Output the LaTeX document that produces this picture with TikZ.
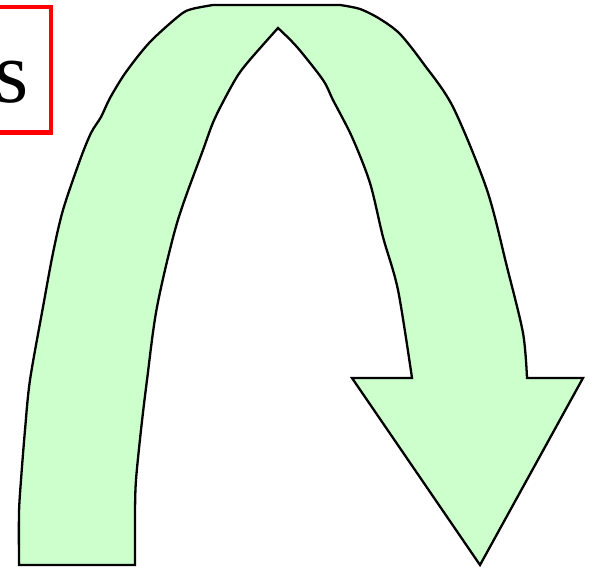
\documentclass[tikz,border=0pt]{standalone}
\usepackage{fontspec}
\setmainfont{Liberation Serif}
\definecolor{arrowgreen}{HTML}{CCFFCC}
\begin{document}
\begin{tikzpicture}[x=1pt,y=-1pt,
  uturn/.style={fill=arrowgreen,draw=black,line width=2.3pt,line join=miter},
  redbox/.style={draw=red,line width=4.5pt},
  bigletter/.style={font=\fontsize{88}{90}\selectfont,inner sep=0pt,anchor=base east}]
\useasboundingbox (0,0) rectangle (592,568);
\clip (0,0) rectangle (592,568);
% red box with text
\draw[redbox] (-80,7) rectangle (51,132.5);
\node[bigletter] (lbl) at (29,102) {s};
% U-turn arrow
\draw[uturn]
  plot[smooth,tension=0.5] coordinates {(19,565) (19,513) (21,480) (25,430) (30,380) (43,307) (53,253) (63,210) (80,160) (91,133) (101,117) (110,98) (126,72) (150,42) (180,15) (192,9) (213,5)}
  -- (340,5)
  -- plot[smooth,tension=0.5] coordinates {(340,5) (360,9) (380,19) (400,34) (423,63) (453,107) (487,190) (507,267) (523,333) (527,378)}
  -- (583,378) -- (480,565) -- (352,378) -- (412,378)
  -- plot[smooth,tension=0.5] coordinates {(412,378) (398,290) (383,237) (370,183) (352,137) (333,100) (323,80) (297,47) (278,28)}
  -- plot[smooth,tension=0.5] coordinates {(278,28) (248,62) (235,80) (215,118) (203,150) (177,223) (157,307) (147,380) (141,430) (136,480) (135,513) (135,565)}
  -- cycle;
\end{tikzpicture}
\end{document}
